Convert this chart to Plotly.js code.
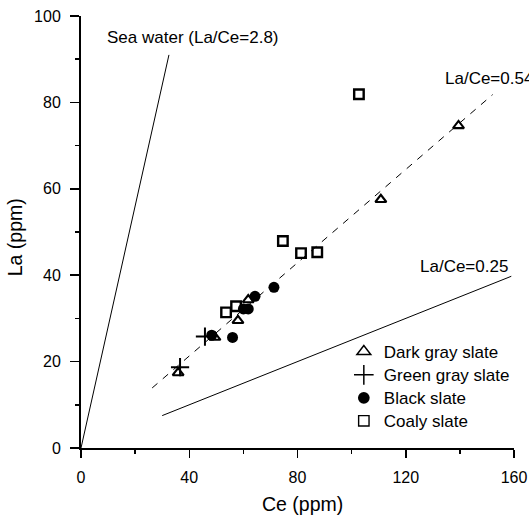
<!DOCTYPE html>
<html>
<head>
<meta charset="utf-8">
<script src="https://cdn.plot.ly/plotly-3.0.1.min.js"></script>
<style>html,body{margin:0;padding:0;background:#fff;}#chart{width:529px;height:515px;}</style>
</head>
<body>
<div id="chart"></div>
<script>
// Series data (Ce, La in ppm)
const darkCe  = [139.5, 110.8, 58.0, 49.5, 35.9, 61.8];
const darkLa  = [74.6, 57.5, 29.5, 25.6, 17.4, 34.3];
const greenCe = [36.6, 45.8];
const greenLa = [18.7, 25.8];
const blackCe = [48.3, 56.0, 60.0, 61.8, 64.3, 71.3];
const blackLa = [26.1, 25.6, 32.2, 32.2, 35.1, 37.2];
const coalyCe = [102.7, 74.6, 81.3, 87.3, 53.6, 57.3];
const coalyLa = [81.9, 47.9, 45.1, 45.3, 31.4, 32.8];

// Reference lines
const seaCe  = [0, 32.5];
const seaLa  = [0, 91];
const fitCe  = [26.3, 152.1];
const fitLa  = [13.9, 81.8];
const lowCe  = [30, 159];
const lowLa  = [7.5, 39.75];

const seriesNames = ['Dark gray slate', 'Green gray slate', 'Black slate', 'Coaly slate'];
const lineLabels = ['Sea water (La/Ce=2.8)', 'La/Ce=0.54', 'La/Ce=0.25'];
const xTitle = 'Ce (ppm)';
const yTitle = 'La (ppm)';
const xTicks = [0, 40, 80, 120, 160];
const yTicks = [0, 20, 40, 60, 80, 100];

const FONT = 'Liberation Sans, Arial, sans-serif';
const FS = 17;

const symbols = ['triangle-up-open', 'cross-thin-open', 'circle', 'square-open'];
const dataSize = [9.6, 13, 11, 9.5];
const dataLw = [2.1, 2, 0, 2.4];
const legSize = [12, 14, 11.7, 10.4];
const legLw = [1.5, 1.5, 0, 1.4];
const seriesX = [darkCe, greenCe, blackCe, coalyCe];
const seriesY = [darkLa, greenLa, blackLa, coalyLa];
const drawOrder = [0, 1, 3, 2];

const traces = [
  {x: seaCe, y: seaLa, mode: 'lines', line: {color: '#000', width: 1}, showlegend: false, hoverinfo: 'skip'},
  {x: fitCe, y: fitLa, mode: 'lines', line: {color: '#000', width: 1, dash: '7px,7px'}, showlegend: false, hoverinfo: 'skip'},
  {x: lowCe, y: lowLa, mode: 'lines', line: {color: '#000', width: 1}, showlegend: false, hoverinfo: 'skip'}
];
drawOrder.forEach(i => {
  traces.push({x: seriesX[i], y: seriesY[i], name: seriesNames[i], mode: 'markers', showlegend: false,
    marker: {symbol: symbols[i], size: dataSize[i], color: '#000', line: {color: '#000', width: dataLw[i]}}});
});
// legend-only entries (one legend box per row)
const legendIds = ['legend', 'legend2', 'legend3', 'legend4'];
seriesNames.forEach((nm, i) => {
  traces.push({x: [null], y: [null], name: nm, mode: 'markers', showlegend: true, legend: legendIds[i],
    marker: {symbol: symbols[i], size: legSize[i], color: '#000', line: {color: '#000', width: legLw[i]}}});
});

const legendRowsPx = [352, 375.3, 398.3, 421.3];
const plotTop = 16, plotH = 432;

const layout = {
  width: 529, height: 515,
  margin: {l: 81, r: 15, t: 16, b: 67, pad: 0},
  paper_bgcolor: '#fff', plot_bgcolor: '#fff',
  font: {family: FONT, size: FS, color: '#000'},
  showlegend: true,
  xaxis: {
    range: [0, 160], tickvals: xTicks, ticktext: xTicks.map(String), tickfont: {size: 16},
    showgrid: false, zeroline: false, showline: true, linecolor: '#000', linewidth: 2,
    ticks: 'outside', ticklen: 8, tickwidth: 1.5, tickcolor: '#000',
    minor: {tickvals: [20, 60, 100, 140], ticks: 'outside', ticklen: 4, tickwidth: 1.5, tickcolor: '#000', showgrid: false},
    ticklabelstandoff: 6,
    fixedrange: true
  },
  yaxis: {
    range: [0, 100], tickvals: yTicks, ticktext: yTicks.map(String), tickfont: {size: 16},
    showgrid: false, zeroline: false, showline: true, linecolor: '#000', linewidth: 2,
    ticks: 'outside', ticklen: 9, tickwidth: 1.5, tickcolor: '#000',
    minor: {tickvals: [10, 30, 50, 70, 90], ticks: 'outside', ticklen: 4, tickwidth: 1.5, tickcolor: '#000', showgrid: false},
    ticklabelstandoff: 6,
    fixedrange: true
  },
  annotations: [
    {x: 9.0, y: 95, xref: 'x', yref: 'y', text: lineLabels[0], showarrow: false, xanchor: 'left', yanchor: 'middle', font: {family: FONT, size: FS}},
    {x: 133.9, y: 85.5, xref: 'x', yref: 'y', text: lineLabels[1], showarrow: false, xanchor: 'left', yanchor: 'middle', font: {family: FONT, size: FS}},
    {x: 124.7, y: 42, xref: 'x', yref: 'y', text: lineLabels[2], showarrow: false, xanchor: 'left', yanchor: 'middle', font: {family: FONT, size: FS}},
    {x: 0.512, y: -0.1285, xref: 'paper', yref: 'paper', text: xTitle, showarrow: false, xanchor: 'center', yanchor: 'middle', font: {family: FONT, size: 19.5}},
    {x: -0.1536, y: 0.489, xref: 'paper', yref: 'paper', text: yTitle, textangle: -90, showarrow: false, xanchor: 'center', yanchor: 'middle', font: {family: FONT, size: 19.5}}
  ]
};
legendIds.forEach((id, i) => {
  layout[id] = {x: 0.607, y: (plotTop + plotH - legendRowsPx[i]) / plotH, xanchor: 'left', yanchor: 'middle',
    bgcolor: 'rgba(0,0,0,0)', font: {family: FONT, size: FS, color: '#000'}, itemwidth: 30};
});

Plotly.newPlot('chart', traces, layout, {displayModeBar: false, staticPlot: true});
</script>
</body>
</html>
